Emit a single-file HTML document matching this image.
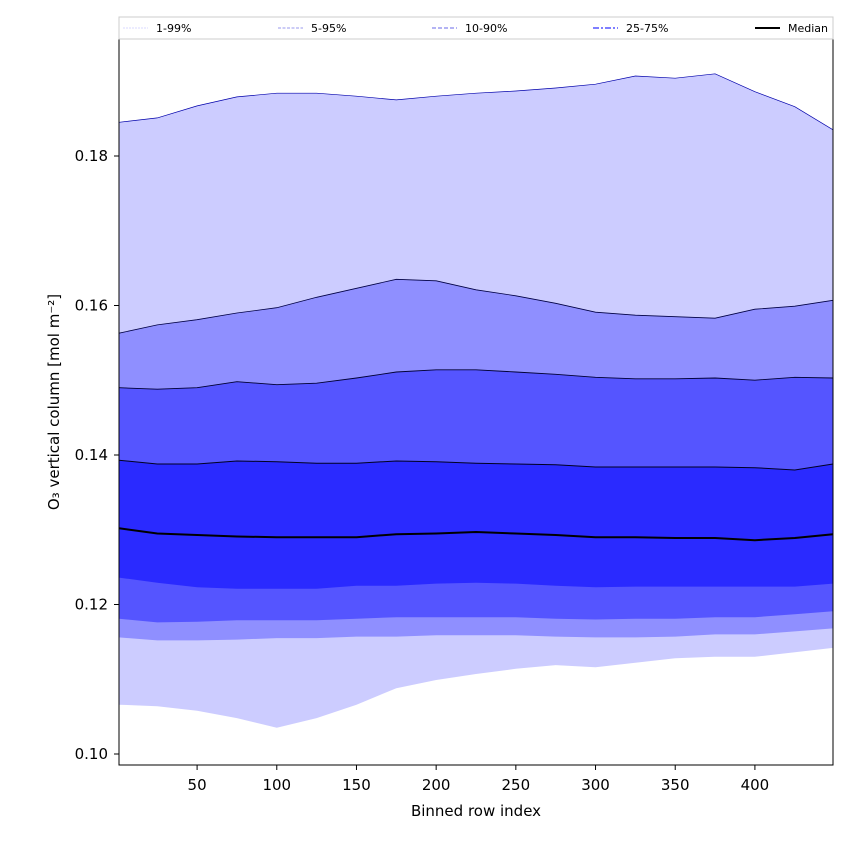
<!DOCTYPE html>
<html><head><meta charset="utf-8"><style>
body{margin:0;background:#fff;}
svg{font-family:"DejaVu Sans","Liberation Sans",sans-serif;}
</style></head><body>
<svg id="chart" width="850" height="850" viewBox="0 0 850 850">
<g id="bands"></g>
<g id="axes"></g>
<g id="legend"></g>
</svg>
<script>
const xs = [1,25,50,75,100,125,150,175,200,225,250,275,300,325,350,375,400,425,449];
const p99 = [.1845,.1851,.1867,.1879,.1884,.1884,.1880,.1875,.1880,.1884,.1887,.1891,.1896,.1907,.1904,.1910,.1886,.1866,.1835];
const p95 = [.1563,.1574,.1581,.1590,.1597,.1611,.1623,.1635,.1633,.1621,.1613,.1603,.1591,.1587,.1585,.1583,.1595,.1599,.1607];
const p90 = [.1490,.1488,.1490,.1498,.1494,.1496,.1503,.1511,.1514,.1514,.1511,.1508,.1504,.1502,.1502,.1503,.1500,.1504,.1503];
const p75 = [.1393,.1388,.1388,.1392,.1391,.1389,.1389,.1392,.1391,.1389,.1388,.1387,.1384,.1384,.1384,.1384,.1383,.1380,.1388];
const p50 = [.1302,.1295,.1293,.1291,.1290,.1290,.1290,.1294,.1295,.1297,.1295,.1293,.1290,.1290,.1289,.1289,.1286,.1289,.1294];
const p25 = [.1236,.1229,.1223,.1221,.1221,.1221,.1225,.1225,.1228,.1229,.1228,.1225,.1223,.1224,.1224,.1224,.1224,.1224,.1228];
const p10 = [.1181,.1176,.1177,.1179,.1179,.1179,.1181,.1183,.1183,.1183,.1183,.1181,.1180,.1181,.1181,.1183,.1183,.1187,.1191];
const p5  = [.1156,.1152,.1152,.1153,.1155,.1155,.1157,.1157,.1159,.1159,.1159,.1157,.1156,.1156,.1157,.1160,.1160,.1164,.1168];
const p1  = [.1066,.1064,.1058,.1048,.1035,.1048,.1066,.1088,.1099,.1107,.1114,.1119,.1116,.1122,.1128,.1130,.1130,.1136,.1142];
const xTicks = [50,100,150,200,250,300,350,400];
const yTicks = [0.10,0.12,0.14,0.16,0.18];
const legendLabels = ["1-99%","5-95%","10-90%","25-75%","Median"];

const L=119,R=833,T=39,B=765, xmin=1,xmax=449, ymin=0.09853,ymax=0.19565;
const sx=v=>L+(v-xmin)/(xmax-xmin)*(R-L);
const sy=v=>B-(v-ymin)/(ymax-ymin)*(B-T);
const NS="http://www.w3.org/2000/svg";
function mk(tag,attrs,parent){const e=document.createElementNS(NS,tag);for(const k in attrs)e.setAttribute(k,attrs[k]);parent.appendChild(e);return e;}
const bands=document.getElementById('bands'),axes=document.getElementById('axes'),legend=document.getElementById('legend');
function line(a){return a.map((v,i)=>(i?'L':'M')+sx(xs[i]).toFixed(1)+','+sy(v).toFixed(1)).join('');}
function area(top,bot){let d=line(top);for(let i=bot.length-1;i>=0;i--)d+='L'+sx(xs[i]).toFixed(1)+','+sy(bot[i]).toFixed(1);return d+'Z';}
const fills=[[p99,p1,'#ccccff','band-1-99'],[p95,p5,'#8f8fff','band-5-95'],[p90,p10,'#5555ff','band-10-90'],[p75,p25,'#2a2aff','band-25-75']];
fills.forEach(f=>{const p=mk('path',{d:area(f[0],f[1]),fill:f[2],stroke:'none'},bands);

});
[[p99,'#0000aa',0.7],[p95,'#000044',0.8],[p90,'#000033',0.9],[p75,'#000022',1]].forEach(s=>{
const p=mk('path',{d:line(s[0]),fill:'none',stroke:s[1],'stroke-width':s[2]},bands);

});
const med=mk('path',{d:line(p50),fill:'none',stroke:'#000','stroke-width':2},bands);


const frame=mk('rect',{x:L,y:T,width:R-L,height:B-T,fill:'none',stroke:'#000','stroke-width':1},axes);


xTicks.forEach(t=>{const x=sx(t);mk('line',{x1:x,x2:x,y1:B,y2:B+5,stroke:'#000'},axes);
const tx=mk('text',{x:x,y:B+25,'text-anchor':'middle','font-size':15},axes);tx.textContent=t;

});
yTicks.forEach(t=>{const y=sy(t);mk('line',{x1:L-5,x2:L,y1:y,y2:y,stroke:'#000'},axes);
const tx=mk('text',{x:L-11,y:y+5,'text-anchor':'end','font-size':15},axes);tx.textContent=t.toFixed(2);

});
const xl=mk('text',{x:(L+R)/2,y:816,'text-anchor':'middle','font-size':15},axes);xl.textContent='Binned row index';


const yl=mk('text',{x:0,y:0,'text-anchor':'middle','font-size':15,transform:'translate(59,402) rotate(-90)'},axes);yl.textContent='O₃ vertical column [mol m⁻²]';


const lb=mk('rect',{x:119,y:17,width:714,height:22,fill:'#fff',stroke:'#ccc','stroke-width':1},legend);


const lstyles=[['#ccccff',0.7,'2,1'],['#9999ee',0.9,'3,1.5'],['#8888ee',1.2,'4,2'],['#5555ff',1.6,'6,2,2,2'],['#000',2,'']];
const lx=[123,278,432,593,755];
legendLabels.forEach((lab,i)=>{const g=mk('g',{},legend);


const s=lstyles[i];const a={x1:lx[i],x2:lx[i]+25,y1:28,y2:28,stroke:s[0],'stroke-width':s[1]};if(s[2])a['stroke-dasharray']=s[2];
mk('line',a,g);const t=mk('text',{x:lx[i]+33,y:32,'font-size':11},g);t.textContent=lab;});
</script>
</body></html>
